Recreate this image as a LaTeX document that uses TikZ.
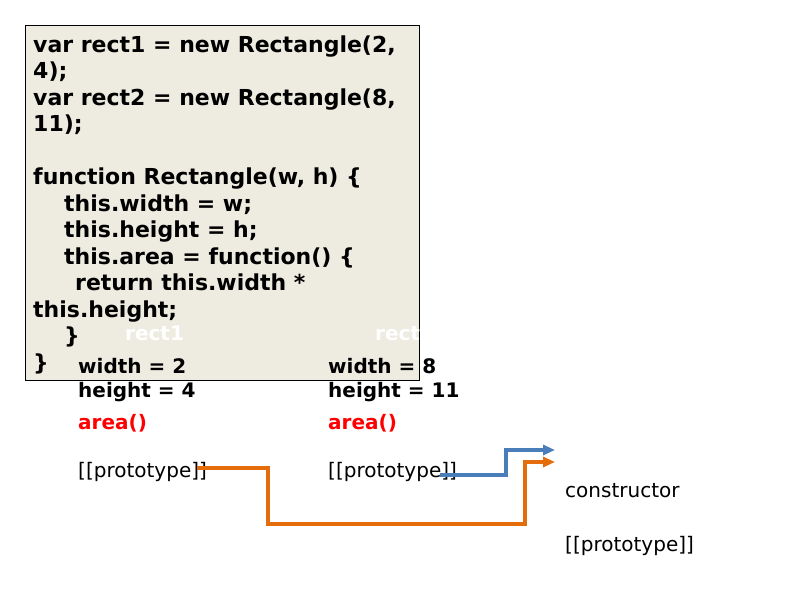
\documentclass[tikz,border=0pt]{standalone}
\usepackage{fontspec}
\setmainfont{DejaVu Sans}
\usetikzlibrary{arrows.meta}
\definecolor{codebg}{HTML}{EEECE1}
\definecolor{linkorange}{HTML}{E46C0A}
\definecolor{linkblue}{HTML}{4A7EBB}
\tikzset{
  codetext/.style={anchor=base west, inner sep=0pt, align=left, font=\fontsize{22}{26.5}\selectfont\bfseries},
  objtitle/.style={anchor=base west, inner sep=0pt, white, font=\fontsize{20}{24}\selectfont\bfseries},
  slot/.style={anchor=base west, inner sep=0pt, font=\fontsize{20}{24}\selectfont\bfseries},
  method/.style={slot, red},
  link/.style={line width=3.3pt, ->, >={Triangle[length=12pt, width=10pt]}}
}
\begin{document}
\begin{tikzpicture}[x=1pt, y=-1pt]
  \useasboundingbox (0,0) rectangle (800,600);
  % the code listing, on its beige card (base = its last line)
  \draw[fill=codebg, line width=0.8pt] (25.5,25.5) rectangle (419.5,380);
  \node[codetext] (code) at (33,370) {var rect1 = new Rectangle(2,\\ 4);\\ var rect2 = new Rectangle(8,\\ 11);\\ \mbox{}\\
    function Rectangle(w, h) \{\\ \hspace*{31pt}this.width = w;\\ \hspace*{31pt}this.height = h;\\
    \hspace*{31pt}this.area = function() \{\\ \hspace*{42pt}return this.width *\\ this.height;\\
    \hspace*{31pt}\}\\ \}};
  % the two objects (titles in white, hidden on the card)
  \node[objtitle] (r1title) at (125,340) {rect1};
  \node[objtitle] (r2title) at (375,340) {rect2};
  \node[slot] (r1width) at (78,373) {width = 2};
  \node[slot] (r1height) at (78,397) {height = 4};
  \node[method] (r1area) at (78,429) {area()};
  \node[slot, font=\fontsize{20}{24}\selectfont] (r1proto) at (78,477) {[[prototype]]};
  \node[slot] (r2width) at (328,373) {width = 8};
  \node[slot] (r2height) at (328,397) {height = 11};
  \node[method] (r2area) at (328,429) {area()};
  \node[slot, font=\fontsize{20}{24}\selectfont] (r2proto) at (328,477) {[[prototype]]};
  % the shared prototype
  \node[slot, font=\fontsize{20}{24}\selectfont] (pctor) at (565,497) {constructor};
  \node[slot, font=\fontsize{20}{24}\selectfont] (pproto) at (565,551) {[[prototype]]};
  \coordinate (protoin1) at (555,462);
  \coordinate (protoin2) at (555,450);
  % [[prototype]] links
  \draw[link, linkorange] ([shift={(-10,-3.5)}]r1proto.east) -| (268,524) -| (525,462) -- (protoin1);
  \draw[link, linkblue] ([shift={(-17,3.5)}]r2proto.east) -| (506,450) -- (protoin2);
\end{tikzpicture}
\end{document}
